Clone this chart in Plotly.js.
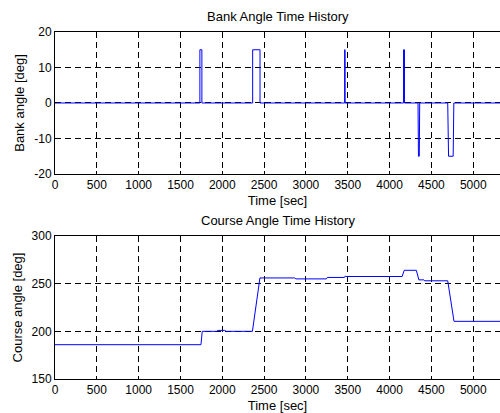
<!DOCTYPE html>
<html>
<head>
<meta charset="utf-8">
<script src="https://cdn.plot.ly/plotly-3.0.1.min.js"></script>
<style>html,body{margin:0;padding:0;background:#fff;}#chart{width:500px;height:413px;}</style>
</head>
<body>
<div id="chart"></div>
<script>
// Bank angle time history (step-shaped pulses)
const bankTime  = [0, 1732, 1732, 1756, 1756, 2363, 2363, 2451, 2451, 3463, 3463, 3468, 3468, 4167, 4167, 4178, 4178, 4340, 4345, 4355, 4360, 4695, 4705, 4760, 4768, 5400];
const bankAngle = [0, 0, 15, 15, 0, 0, 15, 15, 0, 0, 15, 15, 0, 0, 15, 15, 0, 0, -15, -15, 0, 0, -15, -15, 0, 0];

// Course angle time history
const courseTime  = [0, 1745, 1760, 1930, 1950, 2030, 2045, 2360, 2450, 2866, 2880, 3245, 3255, 3460, 3470, 3480, 4150, 4175, 4320, 4350, 4410, 4420, 4695, 4770, 5400];
const courseAngle = [186, 186, 200, 200, 201, 201, 200, 200, 256, 256, 255, 255, 256.5, 256.5, 258, 257.5, 257.5, 264, 264, 254, 254, 253, 253, 210.5, 210.5];

const xTicks = [0, 500, 1000, 1500, 2000, 2500, 3000, 3500, 4000, 4500, 5000];
const bankTicks = [-20, -10, 0, 10, 20];
const courseTicks = [150, 200, 250, 300];

const titles = ["Bank Angle Time History", "Course Angle Time History"];
const xTitle = "Time [sec]";
const yTitles = ["Bank angle [deg]", "Course angle [deg]"];

const font = {family: "Liberation Sans, Arial, sans-serif", size: 12, color: "#000"};

function xAxis(anchor) {
  return {
    domain: [0, 1], range: [0, 5320], anchor: anchor,
    tickmode: "array", tickvals: xTicks, ticktext: xTicks.map(String),
    ticks: "inside", ticklen: 3, tickcolor: "#000",
    showline: true, linecolor: "#000", linewidth: 1, mirror: "ticks",
    showgrid: true, gridcolor: "#000", gridwidth: 1, griddash: "6px,4px",
    zeroline: false, tickfont: font,
    title: {text: xTitle, font: {family: font.family, size: 13, color: "#000"}, standoff: 4}
  };
}
function yAxis(anchor, domain, range, ticks, title) {
  return {
    domain: domain, range: range, anchor: anchor,
    tickmode: "array", tickvals: ticks, ticktext: ticks.map(String),
    ticks: "inside", ticklen: 3, tickcolor: "#000",
    showline: true, linecolor: "#000", linewidth: 1,
    showgrid: true, gridcolor: "#000", gridwidth: 1, griddash: "6px,4px",
    zeroline: false, tickfont: font,
    title: {text: title, font: {family: font.family, size: 13, color: "#000"}, standoff: 6}
  };
}

const data = [
  {x: bankTime, y: bankAngle, xaxis: "x", yaxis: "y", type: "scatter", mode: "lines",
   line: {color: "#0000ff", width: 1}, hoverinfo: "skip"},
  {x: courseTime, y: courseAngle, xaxis: "x2", yaxis: "y2", type: "scatter", mode: "lines",
   line: {color: "#0000ff", width: 1}, hoverinfo: "skip"}
];

const layout = {
  width: 500, height: 413,
  margin: {l: 55, r: 0, t: 0, b: 0},
  paper_bgcolor: "#fff", plot_bgcolor: "#fff",
  showlegend: false,
  font: font,
  xaxis: xAxis("y"),
  yaxis: yAxis("x", [0.5787, 0.9225], [-20, 20], bankTicks, yTitles[0]),
  xaxis2: xAxis("y2"),
  yaxis2: yAxis("x2", [0.0823, 0.4286], [150, 300], courseTicks, yTitles[1]),
  annotations: [
    {text: titles[0], xref: "paper", yref: "paper", x: 0.5, y: 0.9225, yshift: 6,
     xanchor: "center", yanchor: "bottom", showarrow: false,
     font: {family: font.family, size: 13, color: "#000"}},
    {text: titles[1], xref: "paper", yref: "paper", x: 0.5, y: 0.4286, yshift: 6,
     xanchor: "center", yanchor: "bottom", showarrow: false,
     font: {family: font.family, size: 13, color: "#000"}}
  ]
};

Plotly.newPlot("chart", data, layout, {staticPlot: true, displayModeBar: false});
</script>
</body>
</html>
